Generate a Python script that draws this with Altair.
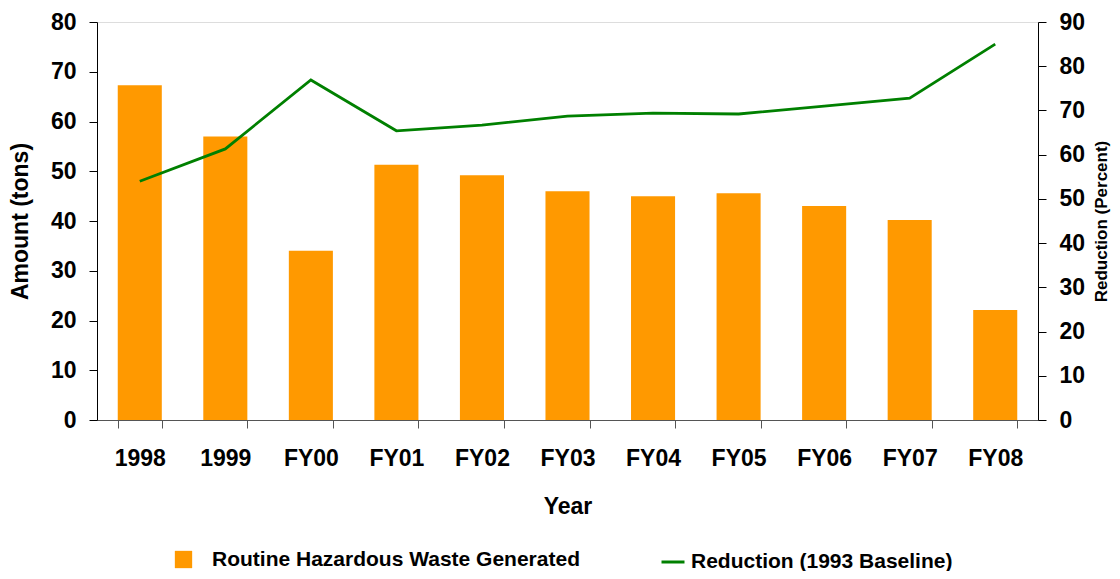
import altair as alt
import pandas as pd

years = ["1998", "1999", "FY00", "FY01", "FY02", "FY03", "FY04", "FY05", "FY06", "FY07", "FY08"]
waste_tons = [67.3, 57.0, 34.0, 51.3, 49.2, 46.0, 45.0, 45.6, 43.0, 40.2, 22.1]
reduction_pct = [54.0, 61.3, 76.9, 65.4, 66.7, 68.7, 69.4, 69.2, 71.0, 72.8, 85.0]

bar_label = "Routine Hazardous Waste Generated"
line_label = "Reduction (1993 Baseline)"

df = pd.DataFrame({
    "year": years,
    "waste": waste_tons,
    "reduction": reduction_pct,
    "bar_series": [bar_label] * len(years),
    "line_series": [line_label] * len(years),
})

FONT = "Liberation Sans"

x_enc = alt.X(
    "year:N", sort=years,
    scale=alt.Scale(paddingInner=0.485, paddingOuter=0.2425),
    axis=alt.Axis(
        title="Year", labelAngle=0, tickBand="extent",
        labelFontSize=23, labelFont=FONT, labelFontWeight="bold", labelColor="black",
        titleFontSize=23, titleFont=FONT, titleFontWeight="bold", titleColor="black",
        tickSize=8, tickColor="#555", domainColor="#555", labelPadding=19, titlePadding=25,
    ),
)

bars = alt.Chart(df).mark_bar(color="#FF9900").encode(
    x=x_enc,
    y=alt.Y(
        "waste:Q",
        scale=alt.Scale(domain=[0, 80], nice=False),
        axis=alt.Axis(
            title="Amount (tons)", values=list(range(0, 81, 10)), grid=False,
            labelFontSize=23, labelFont=FONT, labelFontWeight="bold", labelColor="black",
            titleFontSize=23, titleFont=FONT, titleFontWeight="bold", titleColor="black",
            tickSize=8, tickColor="black", domainColor="black", labelPadding=13, titlePadding=18,
        ),
    ),
    fill=alt.Fill(
        "bar_series:N",
        scale=alt.Scale(domain=[bar_label], range=["#FF9900"]),
        legend=alt.Legend(
            title=None, orient="none", legendX=76, legendY=527, symbolType="square",
            symbolSize=300, symbolStrokeWidth=0, labelFontSize=21, labelFont=FONT,
            labelFontWeight="bold", labelColor="black", labelOffset=18, padding=0,
            labelLimit=0,
        ),
    ),
)

line = alt.Chart(df).mark_line(strokeWidth=2.8).encode(
    x=alt.X("year:N", sort=years),
    y=alt.Y(
        "reduction:Q",
        scale=alt.Scale(domain=[0, 90], nice=False),
        axis=alt.Axis(
            title="Reduction (Percent)", orient="right", values=list(range(0, 91, 10)), grid=False,
            labelFontSize=23, labelFont=FONT, labelFontWeight="bold", labelColor="black",
            titleFontSize=17, titleFont=FONT, titleFontWeight="bold", titleColor="black",
            titleAngle=270, titleBaseline="top", tickSize=8, tickColor="black", domainColor="black",
            labelPadding=13, titlePadding=9,
        ),
    ),
    stroke=alt.Stroke(
        "line_series:N",
        scale=alt.Scale(domain=[line_label], range=["#008000"]),
        legend=alt.Legend(
            title=None, orient="none", legendX=563, legendY=527, symbolType="stroke",
            symbolSize=529, symbolStrokeWidth=3, labelFontSize=21, labelFont=FONT,
            labelFontWeight="bold", labelColor="black", labelOffset=5, padding=0,
            labelLimit=0,
        ),
    ),
)

chart = alt.layer(bars, line).resolve_scale(y="independent").properties(
    width=941, height=398,
    autosize=alt.AutoSizeParams(type="none"),
    padding={"left": 89, "top": 14, "right": 74, "bottom": 151},
).configure_view(stroke=None).configure(background="white")

chart.save("out.html", embed_options={"renderer": "svg", "actions": False})
